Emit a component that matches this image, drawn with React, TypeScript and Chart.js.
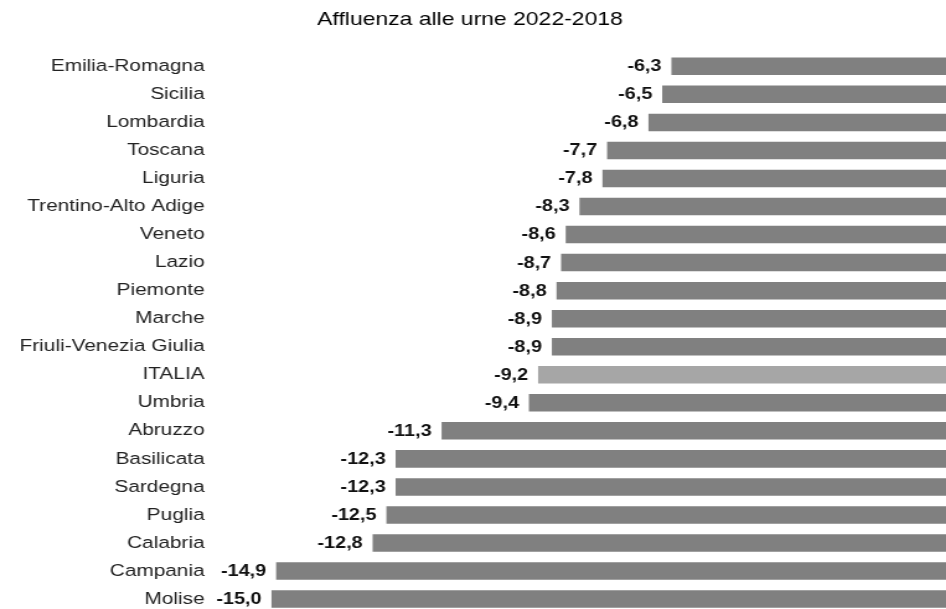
import React, { useEffect, useRef } from "react";
import { Chart, registerables } from "chart.js";

Chart.register(...registerables);

const regions: string[] = [
  "Emilia-Romagna",
  "Sicilia",
  "Lombardia",
  "Toscana",
  "Liguria",
  "Trentino-Alto Adige",
  "Veneto",
  "Lazio",
  "Piemonte",
  "Marche",
  "Friuli-Venezia Giulia",
  "ITALIA",
  "Umbria",
  "Abruzzo",
  "Basilicata",
  "Sardegna",
  "Puglia",
  "Calabria",
  "Campania",
  "Molise",
];

const turnoutChange: number[] = [
  -6.3, -6.5, -6.8, -7.7, -7.8, -8.3, -8.6, -8.7, -8.8, -8.9, -8.9, -9.2, -9.4,
  -11.3, -12.3, -12.3, -12.5, -12.8, -14.9, -15.0,
];

const chartTitle = "Affluenza alle urne 2022-2018";

const STRETCH = 1.24;
const CW = 775;
const CH = 640;
const FONT = "'Liberation Sans', Arial, sans-serif";

const fmt = (v: number) => v.toFixed(1).replace(".", ",");

export default function App() {
  const ref = useRef<HTMLCanvasElement | null>(null);

  useEffect(() => {
    const canvas = ref.current;
    if (!canvas) return;

    const titlePlugin = {
      id: "customTitle",
      afterDraw(chart: any) {
        const ctx = chart.ctx;
        ctx.save();
        ctx.font = `18.5px ${FONT}`;
        ctx.fillStyle = "#000";
        ctx.textAlign = "center";
        ctx.textBaseline = "middle";
        ctx.fillText(chartTitle, 379, 19.5);
        ctx.restore();
      },
    };

    const valueLabels = {
      id: "valueLabels",
      afterDatasetsDraw(chart: any) {
        const ctx = chart.ctx;
        const meta = chart.getDatasetMeta(0);
        ctx.save();
        ctx.font = `bold 16px ${FONT}`;
        ctx.fillStyle = "#111";
        ctx.textAlign = "right";
        ctx.textBaseline = "middle";
        meta.data.forEach((el: any, i: number) => {
          const v = chart.data.datasets[0].data[i] as number;
          ctx.fillText(fmt(v), el.x - 8, el.y + 0.5);
        });
        ctx.restore();
      },
    };

    const chart = new Chart(canvas, {
      type: "bar",
      data: {
        labels: regions,
        datasets: [
          {
            data: turnoutChange,
            backgroundColor: regions.map((r) =>
              r === "ITALIA" ? "#a6a6a6" : "#808080"
            ),
            borderWidth: 0,
            categoryPercentage: 1,
            barPercentage: 0.625,
          },
        ],
      },
      options: {
        indexAxis: "y",
        animation: false,
        responsive: false,
        devicePixelRatio: 1,
        layout: { padding: { top: 52.3, bottom: 26.9, left: 0, right: 0 } },
        plugins: {
          legend: { display: false },
          title: { display: false },
          tooltip: { enabled: false },
        },
        scales: {
          x: {
            display: false,
            min: -16.32,
            max: 0,
          },
          y: {
            grid: { display: false, drawTicks: false },
            border: { display: false },
            ticks: {
              padding: 5,
              color: "#222",
              font: { family: FONT, size: 16.8 },
            },
            afterFit(scale: any) {
              scale.width = 170;
            },
          },
        },
      },
      plugins: [titlePlugin, valueLabels],
    });

    return () => chart.destroy();
  }, []);

  return (
    <div
      style={{
        position: "fixed",
        left: 0,
        top: 0,
        width: 946,
        height: 609,
        overflow: "hidden",
        background: "#fff",
      }}
    >
      <div
        style={{
          width: CW,
          height: CH,
          transform: `scaleX(${STRETCH})`,
          transformOrigin: "0 0",
        }}
      >
        <canvas ref={ref} width={CW} height={CH} />
      </div>
    </div>
  );
}
